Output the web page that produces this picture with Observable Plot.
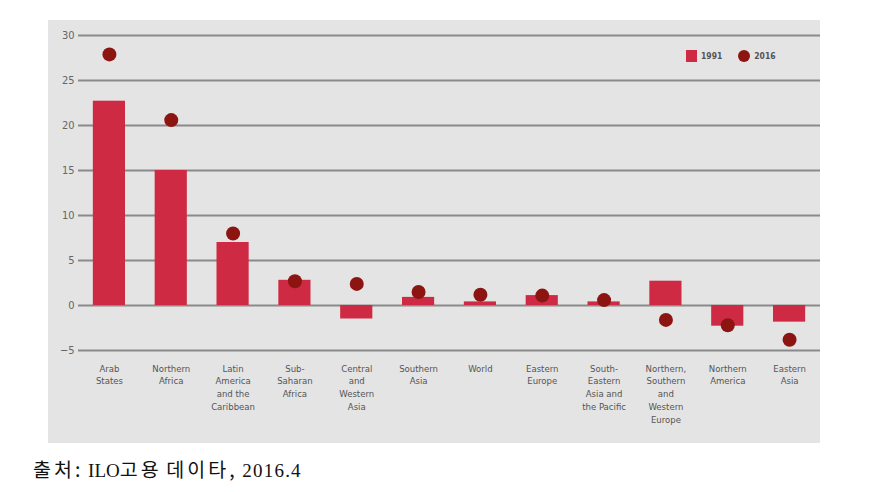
<!DOCTYPE html>
<html>
<head>
<meta charset="utf-8">
<script src="https://cdn.jsdelivr.net/npm/d3@7"></script>
<script src="https://cdn.jsdelivr.net/npm/@observablehq/plot@0.6"></script>
<style>
  body { margin: 0; background: #fff; }
  #wrap { position: relative; width: 883px; height: 492px; }
  #chart { position: absolute; left: 48px; top: 20px; }
  #chart svg { background: #e4e4e4; display: block; }
  #legend { position: absolute; left: 686px; top: 50px; display: flex; align-items: center;
    font-family: "DejaVu Sans Condensed", "DejaVu Sans", sans-serif; font-size: 8.5px; font-weight: bold; color: #555; }
  #legend .sq { width: 11px; height: 12px; background: #cf2a43; margin-right: 4px; }
  #legend .ci { width: 12px; height: 12px; border-radius: 50%; background: #8c1512; margin: 0 4px 0 16px; }
  #caption { position: absolute; left: 33px; top: 454px; font-family: "Liberation Serif", "Noto Sans CJK KR", serif;
    font-size: 19px; color: #111; white-space: nowrap; }
  #caption .ko { font-family: "Noto Sans CJK KR", sans-serif; font-size: 19.5px; letter-spacing: 3px; }
  #caption .num { letter-spacing: 1.2px; }
</style>
</head>
<body>
<div id="wrap">
  <div id="chart"></div>
  <div id="legend"><div class="sq"></div><span>1991</span><div class="ci"></div><span>2016</span></div>
  <div id="caption"><span class="ko">출처:</span> ILO<span class="ko">고용</span> <span class="ko">데이타,</span> <span class="num">2016.4</span></div>
</div>
<script>
const regions = ["Arab States", "Northern Africa", "Latin America and the Caribbean", "Sub-Saharan Africa",
  "Central and Western Asia", "Southern Asia", "World", "Eastern Europe",
  "South-Eastern Asia and the Pacific", "Northern, Southern and Western Europe", "Northern America", "Eastern Asia"];
const regionLabels = ["Arab\nStates", "Northern\nAfrica", "Latin\nAmerica\nand the\nCaribbean", "Sub-\nSaharan\nAfrica",
  "Central\nand\nWestern\nAsia", "Southern\nAsia", "World", "Eastern\nEurope",
  "South-\nEastern\nAsia and\nthe Pacific", "Northern,\nSouthern\nand\nWestern\nEurope", "Northern\nAmerica", "Eastern\nAsia"];
const values1991 = [22.7, 15.0, 7.0, 2.8, -1.5, 0.9, 0.4, 1.1, 0.4, 2.7, -2.3, -1.85];
const values2016 = [27.9, 20.6, 8.0, 2.7, 2.4, 1.5, 1.2, 1.1, 0.6, -1.6, -2.2, -3.8];
const yTicks = [-5, 0, 5, 10, 15, 20, 25, 30];

const data = regions.map((r, i) => ({region: r, v1991: values1991[i], v2016: values2016[i]}));
const labelOf = new Map(regions.map((r, i) => [r, regionLabels[i]]));

const chart = Plot.plot({
  width: 772,
  height: 423,
  marginLeft: 30,
  marginRight: 0,
  marginTop: 15,
  marginBottom: 93,
  style: {fontFamily: "'DejaVu Sans Condensed', 'DejaVu Sans', sans-serif", color: "#555", background: "#e4e4e4"},
  x: {domain: regions, paddingInner: 0.48, paddingOuter: 0.24, round: false, label: null},
  y: {domain: [-5, 30], label: null},
  marks: [
    Plot.ruleY(yTicks, {stroke: "#8a8a8a", strokeWidth: 2}),
    Plot.barY(data, {x: "region", y: "v1991", fill: "#cf2a43"}),
    Plot.dot(data, {x: "region", y: "v2016", r: 7, fill: "#8c1512"}),
    Plot.axisY({ticks: yTicks, tickSize: 0, tickPadding: 4, fontSize: 11, tickFormat: d => d < 0 ? "\u2212" + Math.abs(d) : d, fill: "#666"}),
    Plot.axisX({tickSize: 0, tickPadding: 12, fontSize: 9.5, lineHeight: 1.35, lineAnchor: "top",
      tickFormat: d => labelOf.get(d), fill: "#555"})
  ]
});
document.getElementById("chart").appendChild(chart);
</script>
</body>
</html>
